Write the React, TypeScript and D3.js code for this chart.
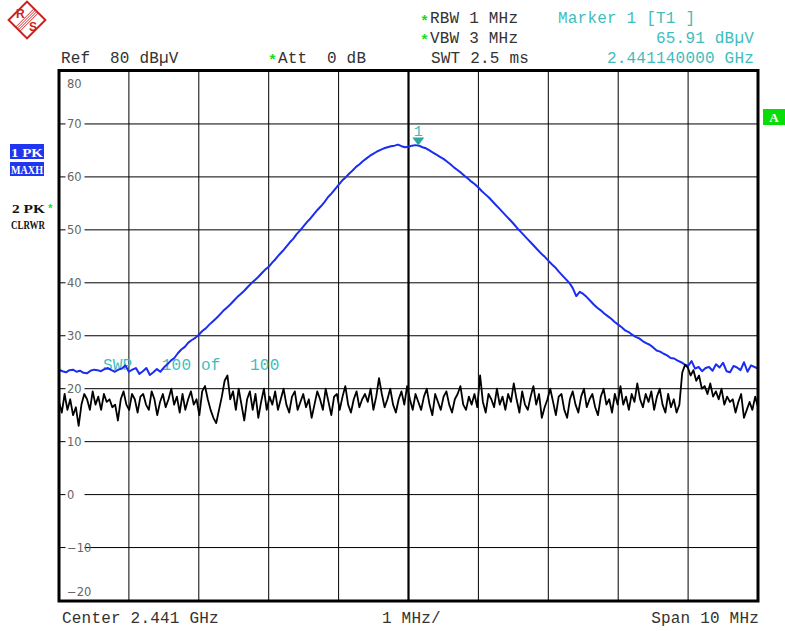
import React from 'react';
import * as d3 from 'd3';

// ---- data ----
const centerGHz = 2.441;
const spanGHz = 0.01;
const yTicks = [80, 70, 60, 50, 40, 30, 20, 10, 0, -10, -20];
const xDivs = [0, 1, 2, 3, 4, 5, 6, 7, 8, 9, 10];

// Trace 1 (PK, MAXH) – level in dBµV, 201 sweep points
const maxHoldLevels = [
  23.6, 23.3, 23.1, 23.5, 23.6, 23.2, 23.4, 23.0, 22.9, 23.4,
  23.6, 23.5, 23.3, 23.7, 23.9, 23.5, 23.2, 23.6, 23.8, 24.4,
  23.2, 23.6, 23.9, 22.8, 23.3, 23.9, 22.6, 23.1, 23.7, 23.2,
  24.0, 24.6, 25.3, 25.8, 26.7, 27.4, 27.9, 28.7, 29.2, 29.6,
  30.2, 30.9, 31.4, 32.1, 32.7, 33.3, 34.0, 34.7, 35.3, 35.9,
  36.6, 37.3, 37.9, 38.5, 39.2, 39.9, 40.5, 41.1, 41.8, 42.5,
  43.0, 43.8, 44.5, 45.3, 46.0, 46.8, 47.6, 48.3, 49.2, 49.9,
  50.7, 51.5, 52.2, 53.0, 53.8, 54.5, 55.3, 56.2, 56.9, 57.7,
  58.5, 59.3, 59.9, 60.6, 61.2, 61.9, 62.4, 63.0, 63.5, 64.0,
  64.4, 64.8, 65.1, 65.4, 65.6, 65.8, 65.9, 66.1, 65.8, 65.6,
  65.7, 65.9, 66.0, 65.9, 65.6, 65.4, 65.0, 64.6, 64.2, 63.8,
  63.4, 62.9, 62.4, 61.8, 61.3, 60.8, 60.2, 59.7, 59.1, 58.6,
  58.0, 57.3, 56.7, 56.1, 55.4, 54.7, 54.0, 53.3, 52.6, 51.9,
  51.2, 50.4, 49.7, 49.0, 48.3, 47.6, 46.9, 46.2, 45.5, 44.9,
  44.2, 43.5, 42.9, 42.1, 41.4, 40.7, 40.0, 39.0, 37.5, 38.3,
  37.9, 37.3, 36.6, 35.9, 35.3, 34.8, 34.2, 33.7, 33.2, 32.6,
  32.1, 31.6, 31.0, 30.7, 30.2, 29.8, 29.5, 29.0, 28.6, 28.3,
  27.8, 27.2, 27.0, 26.6, 26.3, 25.8, 25.7, 25.3, 25.0, 24.6,
  24.3, 25.2, 23.8, 24.1, 23.3, 23.9, 24.1, 23.4, 24.6, 24.0,
  24.9, 23.3, 23.1, 24.3, 24.0, 23.5, 25.0, 23.2, 24.4, 24.1,
  23.8,
];

// Trace 2 (PK, CLRWR) – level in dBµV, 250 sweep points
const clearWriteLevels = [
  17.5, 15.5, 19, 16, 18, 15, 16.5, 13, 17, 19,
  18, 16, 19.5, 17, 18.5, 16, 19, 17.5, 18, 16.5,
  17, 14, 18, 19.5, 17, 16, 19, 18, 15.5, 18.5,
  19, 17, 16, 19.5, 18, 15, 17.5, 19, 16.5, 18,
  20, 17, 18.5, 15.5, 19, 16, 18, 19.5, 17, 18,
  15, 19.5, 20.5, 18, 16, 14.5, 13.5, 16, 18.5, 21.5,
  22.5, 18, 19.5, 16, 20, 17, 14, 18, 19.5, 16,
  19, 14.5, 17.5, 20, 16, 18.5, 17, 19.5, 16, 18,
  20, 17, 15.5, 18.5, 19.5, 16, 17.5, 19, 16.5, 18,
  14.5, 17, 19.5, 18, 16, 20, 17.5, 15, 18.5, 19,
  16, 18.5, 20.5, 17, 15.5, 18, 19.5, 16.5, 18, 19,
  17.5, 20, 16, 18.5, 22, 19, 16.5, 18, 20, 17,
  15.5, 18, 19.5, 17, 20.5, 18, 16, 19, 17.5, 16,
  18.5, 20, 17, 15, 19, 17.5, 16, 18.5, 19.5, 17,
  15.5, 18, 19, 20.5, 17, 16, 18.5, 17, 19, 16.5,
  22.5, 17.5, 15.5, 19, 18, 16.5, 20, 17, 18.5, 16,
  19, 17.5, 21, 18, 15.5, 19.5, 17, 16, 18.5, 20.5,
  17, 19, 14.5, 16.5, 18, 20, 17.5, 15, 18.5, 19,
  16, 14.5, 18, 19.5, 17, 15.5, 18.5, 20, 16.5, 18,
  19, 16.5, 15, 18.5, 20, 17, 18, 15.5, 19, 17,
  20.5, 17, 18.5, 16, 19, 17.5, 21, 18, 16.5, 19,
  17.5, 19.5, 16, 18.5, 20, 17, 15.5, 19, 16.5, 18,
  15.5, 17, 23, 24.5, 24, 22.5, 23.5, 21.5, 22.5, 20,
  20.5, 19, 21, 18.5, 19.5, 18, 20, 17, 18.5, 17.5,
  18, 15.5, 17.5, 19, 14.5, 16, 17.5, 16, 18.5, 16.5,
];

const markerFreqGHz = 2.44114;
const markerLevel = 65.91;

const MONO = '"Liberation Mono", "DejaVu Sans Mono", monospace';
const CYAN = '#3fbdbd';
const GREEN = '#19dd19';
const TXT = '#333';

export default function App() {
  const fStart = centerGHz - spanGHz / 2;
  const fStop = centerGHz + spanGHz / 2;
  const x = d3.scaleLinear().domain([fStart, fStop]).range([59, 758]);
  const y = d3.scaleLinear().domain([-20, 80]).range([600.5, 71]);

  const sweepX = (n: number) =>
    d3.scaleLinear().domain([0, n - 1]).range([fStart, fStop]);
  const sx1 = sweepX(maxHoldLevels.length);
  const sx2 = sweepX(clearWriteLevels.length);

  const line1 = d3
    .line<number>()
    .x((_, i) => x(sx1(i)))
    .y((d) => y(d))(maxHoldLevels) as string;
  const line2 = d3
    .line<number>()
    .x((_, i) => x(sx2(i)))
    .y((d) => y(d))(clearWriteLevels) as string;

  const mx = x(markerFreqGHz);
  const my = y(markerLevel);

  const txt = (s: string, tx: number, ty: number, fill = TXT, anchor = 'start') => (
    <text
      x={tx}
      y={ty}
      fill={fill}
      textAnchor={anchor}
      style={{ fontFamily: MONO, fontSize: 16, letterSpacing: '0.2px', whiteSpace: 'pre' }}
      xmlSpace="preserve"
    >
      {s}
    </text>
  );
  const star = (sx: number, sy: number, fs = 15) => (
    <text x={sx} y={sy} fill={GREEN} style={{ fontFamily: MONO, fontSize: fs, fontWeight: 700 }}>
      *
    </text>
  );

  return (
    <svg
      width={785}
      height={631}
      style={{ position: 'absolute', left: 0, top: 0, background: '#fff' }}
    >
      <rect x={0} y={0} width={785} height={631} fill="#fff" />
      {/* R&S logo */}
      <g transform="translate(27,20) rotate(45)">
        <rect x={-13} y={-13} width={26} height={26} fill="#fff" stroke="#cc2020" strokeWidth={2} />
        {[-3, -1, 1, 3].map((o) => (
          <line key={o} x1={o} x2={o} y1={-13} y2={13} stroke="#cc2020" strokeWidth={0.9} />
        ))}
      </g>
      <text x={16} y={18} fill="#cc2020" style={{ fontFamily: 'Liberation Sans', fontSize: 12, fontWeight: 700 }}>R</text>
      <text x={29} y={31} fill="#cc2020" style={{ fontFamily: 'Liberation Sans', fontSize: 12, fontWeight: 700 }}>S</text>

      {/* header */}
      {star(420, 26)}
      {txt('RBW 1 MHz', 430, 23)}
      {star(420, 45)}
      {txt('VBW 3 MHz', 430, 42.5)}
      {txt('SWT 2.5 ms', 431, 62.5)}
      {txt('Marker 1 [T1 ]', 558, 23, CYAN)}
      {txt('65.91 dBµV', 754, 42.5, CYAN, 'end')}
      {txt('2.441140000 GHz', 754, 62.5, CYAN, 'end')}
      {txt('Ref  80 dBµV', 61, 62.5)}
      {star(268, 65)}
      {txt('Att  0 dB', 278, 62.5)}

      {/* left trace labels */}
      <rect x={10} y={144} width={34} height={15} fill="#1f35f0" />
      <text x={11} y={157} fill="#fff" textLength={32} lengthAdjust="spacingAndGlyphs"
        style={{ fontFamily: 'Liberation Serif', fontSize: 13, fontWeight: 700 }}>1 PK</text>
      <rect x={10} y={162} width={34} height={14} fill="#1f35f0" />
      <text x={11} y={174} fill="#fff" textLength={32} lengthAdjust="spacingAndGlyphs"
        style={{ fontFamily: 'Liberation Serif', fontSize: 12, fontWeight: 700 }}>MAXH</text>
      <text x={12} y={213} fill="#111" textLength={33} lengthAdjust="spacingAndGlyphs"
        style={{ fontFamily: 'Liberation Serif', fontSize: 13, fontWeight: 700 }}>2 PK</text>
      {star(47, 212, 11)}
      <text x={11} y={229} fill="#111" textLength={34} lengthAdjust="spacingAndGlyphs"
        style={{ fontFamily: 'Liberation Serif', fontSize: 12, fontWeight: 700 }}>CLRWR</text>

      {/* A box */}
      <rect x={763} y={109} width={22} height={16} fill="#08dd08" />
      <text x={774} y={122} fill="#fff" textAnchor="middle"
        style={{ fontFamily: 'Liberation Serif', fontSize: 13, fontWeight: 700 }}>A</text>

      {/* grid */}
      {xDivs.slice(1, -1).map((k) => {
        const gx = x(fStart + (k * spanGHz) / 10);
        return (
          <line key={'v' + k} x1={gx} x2={gx} y1={71} y2={601} stroke="#000"
            strokeWidth={k === 5 ? 2.2 : 1} />
        );
      })}
      {yTicks.slice(1, -1).map((t) => (
        <line key={'h' + t} x1={59} x2={758} y1={y(t)} y2={y(t)} stroke="#000" strokeWidth={1} />
      ))}
      {yTicks.map((t, i) => {
        const ly = i === 0 ? y(t) + 13 : i === yTicks.length - 1 ? y(t) - 9 : y(t);
        return (
          <g key={'l' + t}>
            <rect x={65.5} y={ly - 6} width={19} height={12} fill="#fff" />
            <text x={67} y={ly + 4} fill="#666"
              style={{ fontFamily: '"DejaVu Sans", sans-serif', fontSize: 11.5 }}>
              {t < 0 ? '\u2212' + Math.abs(t) : String(t)}
            </text>
          </g>
        );
      })}

      {/* sweep counter */}
      {txt('SWP   100 of   100', 103, 370, CYAN)}

      {/* traces */}
      <defs>
        <clipPath id="plotClip">
          <rect x={60} y={72} width={697} height={528} />
        </clipPath>
      </defs>
      <g clipPath="url(#plotClip)">
        <path d={line1} fill="none" stroke="#1a2df0" strokeWidth={2} strokeLinejoin="round" />
        <path d={line2} fill="none" stroke="#000" strokeWidth={1.8} strokeLinejoin="round" />
      </g>

      {/* marker */}
      <path d={`M${mx - 6},${my - 8} L${mx + 6},${my - 8} L${mx},${my} Z`} fill="#2aa8a0" />
      <text x={mx} y={my - 10} fill={CYAN} textAnchor="middle"
        style={{ fontFamily: MONO, fontSize: 15 }}>1</text>

      {/* frame */}
      <rect x={59} y={70.5} width={699} height={530.5} fill="none" stroke="#000" strokeWidth={3} />

      {/* footer */}
      {txt('Center 2.441 GHz', 62, 623)}
      {txt('1 MHz/', 382, 623)}
      {txt('Span 10 MHz', 759, 623, TXT, 'end')}
    </svg>
  );
}
